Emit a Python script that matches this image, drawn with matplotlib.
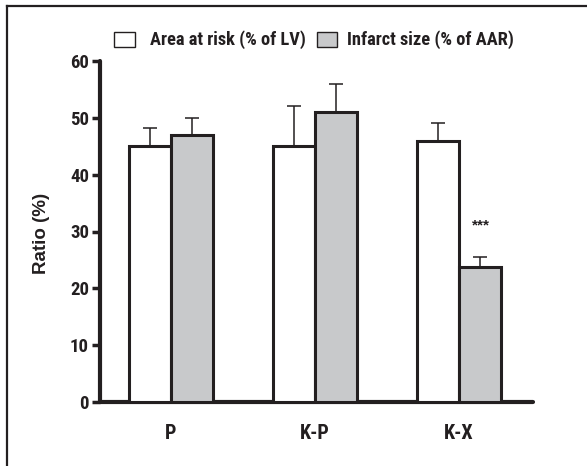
import matplotlib
matplotlib.use("Agg")
import matplotlib.pyplot as plt
from matplotlib import font_manager
from matplotlib.patches import Rectangle
from matplotlib.lines import Line2D
import numpy as np

categories = ["P", "K-P", "K-X"]
area_at_risk = [45.0, 45.0, 46.0]
area_at_risk_err = [3.2, 7.0, 3.1]
infarct_size = [47.0, 51.0, 23.8]
infarct_size_err = [3.0, 5.0, 1.8]
yticks = [0, 10, 20, 30, 40, 50, 60]
legend_labels = ["Area at risk (% of LV)", "Infarct size (% of AAR)"]
sig_label = "***"

_fonts = font_manager.fontManager.ttflist
_bold = {f.name for f in _fonts if (f.weight if isinstance(f.weight, int) else 700 if "bold" in str(f.weight) else 400) >= 600}
_cands = ["Roboto Condensed", "Liberation Sans Narrow", "Arial Narrow", "PT Sans Narrow",
          "Fira Sans Condensed", "IBM Plex Sans Condensed", "Archivo Narrow", "Barlow Condensed"]
NARROW_NAME = next((c for c in _cands if c in _bold), "Liberation Sans")
NARROW = [NARROW_NAME, "DejaVu Sans"]
BOLD = ["Liberation Sans", "DejaVu Sans"]
EDGE = "#231f20"
GRAY = "#c8c9cb"

W, H = 587, 466
fig = plt.figure(figsize=(W / 100, H / 100), dpi=100)
ax = fig.add_axes([100 / W, 1 - 402 / H, (533 - 100) / W, (402 - 61) / H])

x = np.arange(len(categories))
w = 0.29
ax.bar(x - w / 2, area_at_risk, width=w, color="white", edgecolor=EDGE, linewidth=2.2, zorder=3)
ax.bar(x + w / 2, infarct_size, width=w, color=GRAY, edgecolor=EDGE, linewidth=2.2, zorder=3)
ax.errorbar(x - w / 2, area_at_risk, yerr=[np.zeros(3), area_at_risk_err], fmt="none",
            ecolor=EDGE, elinewidth=1.1, capsize=5, capthick=1.1, zorder=2)
ax.errorbar(x + w / 2, infarct_size, yerr=[np.zeros(3), infarct_size_err], fmt="none",
            ecolor=EDGE, elinewidth=1.1, capsize=5, capthick=1.1, zorder=2)

ax.text(x[2] + w / 2 + 0.01, 31.0, sig_label, ha="center", va="center",
        fontsize=11, fontweight="bold", family=BOLD, color=EDGE)

ax.set_xlim(-0.493, 2.514)
ax.set_ylim(0, 60)
ax.set_yticks(yticks)
ax.set_yticklabels([str(t) for t in yticks], fontsize=13.5, fontweight="bold", family=NARROW, color=EDGE)
ax.set_xticks(x)
ax.set_xticklabels(categories, fontsize=14.5, fontweight="bold", family=NARROW, color=EDGE)
ax.tick_params(axis="y", direction="out", length=6, width=2.5, color=EDGE, pad=2)
ax.tick_params(axis="x", length=0, pad=16)
for s in ["top", "right"]:
    ax.spines[s].set_visible(False)
for s in ["left", "bottom"]:
    ax.spines[s].set_linewidth(3)
    ax.spines[s].set_color(EDGE)
    ax.spines[s].set_capstyle("round")

ax.set_ylabel("Ratio (%)", fontsize=13.5, fontweight="bold", family=BOLD, color=EDGE, va="center")
ax.yaxis.set_label_coords((41 - 100) / 433, (402 - 233) / 341)

# frame lines (top and left)
fig.add_artist(Line2D([6.5 / W, 6.5 / W], [0, 1 - 6 / H], transform=fig.transFigure, color=EDGE, lw=1.6))
fig.add_artist(Line2D([6.5 / W, 1], [1 - 6 / H, 1 - 6 / H], transform=fig.transFigure, color=EDGE, lw=1.6))


def fx(px):
    return px / W


def fy(py):
    return 1 - py / H


fig.add_artist(Rectangle((fx(114), fy(47)), fx(135) - fx(114), fy(32) - fy(47),
                         transform=fig.transFigure, facecolor="white", edgecolor=EDGE, lw=1.0))
fig.text(fx(150), fy(40), legend_labels[0], ha="left", va="center", fontsize=13.2,
         fontweight="bold", family=NARROW, color=EDGE)
fig.add_artist(Rectangle((fx(317), fy(47)), fx(337) - fx(317), fy(32) - fy(47),
                         transform=fig.transFigure, facecolor=GRAY, edgecolor=EDGE, lw=1.0))
fig.text(fx(347), fy(40), legend_labels[1], ha="left", va="center", fontsize=13.2,
         fontweight="bold", family=NARROW, color=EDGE)

fig.savefig("out.png", dpi=100)
